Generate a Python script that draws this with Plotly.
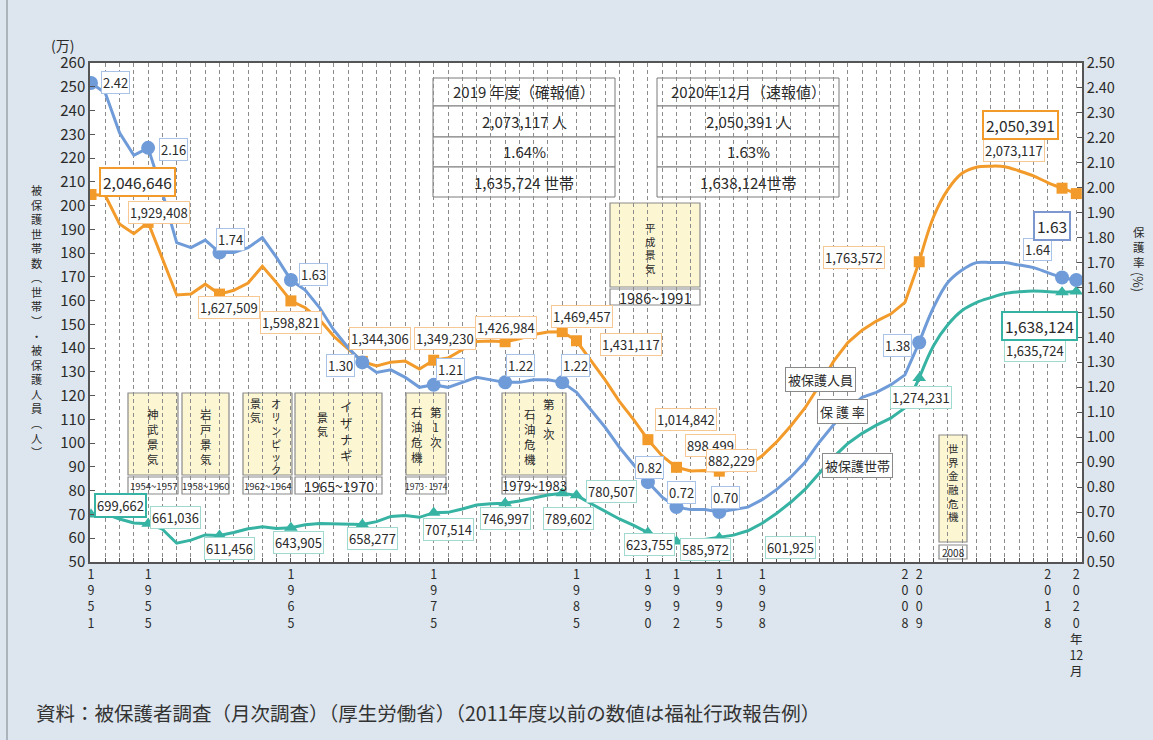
import plotly.graph_objects as go

# ---------------- data ----------------
years = list(range(1951, 2021))
persons = [2046646, 2042550, 1922060, 1881687, 1929408, 1775971, 1623744, 1627571, 1669180, 1627509,
           1643445, 1674001, 1744639, 1674661, 1598821, 1570054, 1520733, 1449970, 1398725, 1344306,
           1325218, 1341000, 1345549, 1312339, 1349230, 1358316, 1393128, 1428261, 1430488, 1426984,
           1439226, 1457383, 1468245, 1469457, 1431117, 1348163, 1266126, 1176258, 1099520, 1014842,
           946374, 898499, 883112, 884912, 882229, 887450, 905589, 946994, 1004472, 1072241,
           1148088, 1242723, 1344327, 1423388, 1475838, 1513892, 1543321, 1592620, 1763572, 1952063,
           2067244, 2135708, 2161612, 2165895, 2163685, 2145438, 2124631, 2096838, 2073117, 2050391]
rates = [2.42, 2.38, 2.22, 2.13, 2.16, 1.98, 1.78, 1.76, 1.79, 1.74,
         1.74, 1.76, 1.80, 1.72, 1.63, 1.59, 1.52, 1.43, 1.36, 1.30,
         1.26, 1.27, 1.24, 1.20, 1.21, 1.20, 1.22, 1.24, 1.23, 1.22,
         1.22, 1.23, 1.23, 1.22, 1.18, 1.11, 1.04, 0.96, 0.89, 0.82,
         0.76, 0.72, 0.71, 0.71, 0.70, 0.71, 0.72, 0.75, 0.79, 0.84,
         0.90, 0.98, 1.05, 1.11, 1.16, 1.18, 1.21, 1.25, 1.38, 1.52,
         1.62, 1.67, 1.70, 1.70, 1.70, 1.69, 1.68, 1.66, 1.64, 1.63]
households = [699662, 702450, 681000, 664000, 661036, 638000, 579000, 592000, 614000, 611456,
              624000, 640000, 648000, 641000, 643905, 657000, 662000, 660000, 660000, 658277,
              670000, 692000, 696000, 688000, 707514, 709000, 723000, 740000, 745000, 746997,
              757000, 770000, 782000, 789602, 780507, 746000, 713000, 681000, 654000, 623755,
              600697, 585972, 586106, 595407, 601925, 613106, 631488, 663060, 704055, 751303,
              805169, 870931, 941270, 998887, 1041508, 1075820, 1105275, 1148766, 1274231, 1410049,
              1498375, 1558510, 1591846, 1612340, 1629743, 1637045, 1640854, 1637422, 1635724, 1638124]

x_tick_years = [1951, 1955, 1965, 1975, 1985, 1990, 1992, 1995, 1998, 2008, 2009, 2018, 2020]
x_tick_text = ["<br>".join(str(y)) for y in x_tick_years[:-1]] + ["2<br>0<br>2<br>0<br>年<br>12<br>月"]

marker_years = [1951, 1955, 1960, 1965, 1970, 1975, 1980, 1984, 1985, 1990, 1992, 1995, 2009, 2019, 2020]
rate_marker_years = [1951, 1955, 1960, 1965, 1970, 1975, 1980, 1984, 1990, 1992, 1995, 2009, 2019, 2020]

series_names = ["被保護人員", "保 護 率", "被保護世帯"]
cycle_names = ["神武景気", "岩戸景気", "オリンピック景気", "イザナギ景気", "第1次石油危機", "第2次石油危機", "平成景気", "世界金融危機"]
cycle_periods = ["1954~1957", "1958~1960", "1962~1964", "1965~1970", "1973·1974", "1979~1983", "1986~1991", "2008"]

# ---------------- style ----------------
ORANGE = "#f29b2b"
BLUE = "#6f9bd8"
TEAL = "#36b3a3"
FONT = "Noto Sans CJK JP"
TXT = "#2a2a2a"
BG = "#dde6ee"
GRID = "#8c8c8c"

PL, PR, PT, PB = 90, 1082, 63, 562


def px(x):
    return (x - PL) / (PR - PL)


def py(y):
    return (PB - y) / (PB - PT)


p_man = [v / 10000 for v in persons]
h_man = [v / 10000 for v in households]
idx = {y: i for i, y in enumerate(years)}

fig = go.Figure()


def add_series(vals, color, yaxis, symbol, msize, myears):
    lin = [i for i, y in enumerate(years) if y <= 2009]
    spl = [i for i, y in enumerate(years) if y >= 2009]
    fig.add_trace(go.Scatter(x=[years[i] for i in lin], y=[vals[i] for i in lin], mode="lines",
                             line=dict(color=color, width=3), yaxis=yaxis, hoverinfo="skip"))
    fig.add_trace(go.Scatter(x=[years[i] for i in spl], y=[vals[i] for i in spl], mode="lines",
                             line=dict(color=color, width=3, shape="spline", smoothing=1.0),
                             yaxis=yaxis, hoverinfo="skip"))
    fig.add_trace(go.Scatter(x=myears, y=[vals[idx[y]] for y in myears], mode="markers",
                             marker=dict(color=color, size=msize, symbol=symbol), yaxis=yaxis,
                             hoverinfo="skip"))


add_series(h_man, TEAL, "y", "triangle-up", 12, marker_years)
add_series(p_man, ORANGE, "y", "square", 11, marker_years)
add_series(rates, BLUE, "y2", "circle", 14, rate_marker_years)

anns = []
shapes = []

# ---------------- value labels ----------------
persons_lab = {1951: (46, 12, True), 1955: (11, 10, False), 1960: (9, -13, False), 1965: (0, -22, False),
               1970: (18, 23, False), 1975: (11, 22, False), 1980: (1, 14, False), 1984: (20, 15, False),
               1985: (54, -4, False), 1990: (38, 20, False), 1992: (34, 22, False), 1995: (12, 11, False),
               2009: (-65, 4, False), 2019: (-48, 38, False), 2020: (-56, 69, True)}
rates_lab = {1951: (24, 0, False), 1955: (25, -2, False), 1960: (11, 13, False), 1965: (23, 6, False),
             1970: (-22, -3, False), 1975: (17, 15, False), 1980: (15, 17, False), 1984: (13, 17, False),
             1990: (2, 15, False), 1992: (5, 15, False), 1995: (6, 15, False), 2009: (-22, -3, False),
             2019: (-25, 28, False), 2020: (-24, 54, True)}
house_lab = {1951: (29, 9, "mid"), 1955: (27, 6, False), 1960: (10, -13, False), 1965: (8, -15, False),
             1970: (10, -14, False), 1975: (15, -17, False), 1980: (0, -15, False), 1984: (6, -25, False),
             1985: (35, 4, False), 1990: (2, -12, False), 1992: (29, -8, False), 1995: (71, -10, False),
             2009: (2, -19, False), 2019: (-27, -58, False), 2020: (-37, -34, True)}


def add_labels(labdict, vals, fmt, yref, light, strong):
    for y, (dx, dy, hl) in labdict.items():
        v = vals[idx[y]]
        big = hl is True
        anns.append(dict(x=y, y=(v / 10000 if yref == "y" else v), xref="x", yref=yref,
                         text=fmt(v), showarrow=False, xshift=dx, yshift=dy,
                         xanchor="center", yanchor="middle",
                         font=dict(family=FONT, size=15.5 if big else 13, color=TXT),
                         bgcolor="white", bordercolor=strong if hl else light,
                         borderwidth=2 if hl else 1, borderpad=2 if big else 1))


add_labels(persons_lab, persons, lambda v: f"{v:,}", "y", "#f7c894", ORANGE)
add_labels(rates_lab, rates, lambda v: f"{v:.2f}", "y2", "#a9c2e8", "#7d98cf")
add_labels(house_lab, households, lambda v: f"{v:,}", "y", "#9fd9d0", TEAL)

# series name labels
for name, (cx, cy) in zip(series_names, [(820, 379), (842, 412), (857, 465)]):
    anns.append(dict(xref="paper", yref="paper", x=px(cx), y=py(cy), text=name, showarrow=False,
                     xanchor="center", yanchor="middle", font=dict(family=FONT, size=13, color=TXT),
                     bgcolor="white", bordercolor="#8a8a8a", borderwidth=1, borderpad=2))

# ---------------- tables ----------------
row_edges = [78, 106, 137, 167, 197]
tables = [
    (433, 615, ["2019 年度（確報値）", f"{persons[-2]:,} 人", f"{rates[-2]:.2f}%", f"{households[-2]:,} 世帯"]),
    (657, 839, ["2020年12月（速報値）", f"{persons[-1]:,} 人", f"{rates[-1]:.2f}%", f"{households[-1]:,}世帯"]),
]
for x0, x1, rows in tables:
    for r, t in enumerate(rows):
        y0, y1 = row_edges[r], row_edges[r + 1]
        shapes.append(dict(type="rect", xref="paper", yref="paper", x0=px(x0), x1=px(x1), y0=py(y1), y1=py(y0),
                           fillcolor="white", line=dict(color="#7a7a7a", width=1), layer="between"))
        anns.append(dict(xref="paper", yref="paper", x=px((x0 + x1) / 2), y=py((y0 + y1) / 2), text=t,
                         showarrow=False, xanchor="center", yanchor="middle",
                         font=dict(family=FONT, size=15, color=TXT)))


# ---------------- vertical (stacked) text ----------------
def vcol(x, ytop, text, size, color=TXT):
    n = len(text)
    pitch = 1.3 * size
    anns.append(dict(xref="paper", yref="paper", x=px(x), y=py(ytop + (n - 1) * pitch / 2),
                     text="<br>".join(text), showarrow=False, xanchor="center", yanchor="middle",
                     align="center", font=dict(family=FONT, size=size, color=color)))


cycle_geom = [
    (128, 178, 393, 475, 477, 494, 9.5, [(153, 414, 11.5, "神武景気")]),
    (182, 229, 393, 475, 477, 494, 9.5, [(206, 414, 11.5, "岩戸景気")]),
    (243, 292, 393, 475, 477, 494, 9.5, [(276, 403, 10.2, "オリンピック"), (255, 403, 11, "景気")]),
    (295, 382, 393, 475, 477, 494, 14, [(346, 407, 12.5, "イザナギ"), (322, 417, 11, "景気")]),
    (406, 446, 393, 475, 477, 494, 8.5, [(436, 412, 11.5, "第1次"), (417, 412, 11.5, "石油危機")]),
    (502, 566, 393, 475, 477, 494, 13, [(549, 404, 11.5, "第2次"), (530, 414, 11.5, "石油危機")]),
    (610, 700, 203, 287, 289, 305, 14.5, [(650, 228, 10.5, "平成景気")]),
    (939, 967, 435, 542, 545, 559, 10, [(953, 448, 10.5, "世界金融危機")]),
]
for name, period, (x0, x1, y0, y1, q0, q1, fs, cols) in zip(cycle_names, cycle_periods, cycle_geom):
    shapes.append(dict(type="rect", xref="paper", yref="paper", x0=px(x0), x1=px(x1), y0=py(y1), y1=py(y0),
                       fillcolor="#fcf6d3", line=dict(color="#8a8a8a", width=1.2), layer="between"))
    shapes.append(dict(type="rect", xref="paper", yref="paper", x0=px(x0), x1=px(x1), y0=py(q1), y1=py(q0),
                       fillcolor="white", line=dict(color="#8a8a8a", width=1.2), layer="between"))
    anns.append(dict(xref="paper", yref="paper", x=px((x0 + x1) / 2), y=py((q0 + q1) / 2), text=period,
                     showarrow=False, xanchor="center", yanchor="middle",
                     font=dict(family=FONT, size=fs, color=TXT)))
    for cx, ct, size, txt in cols:
        vcol(cx, ct, txt, size)

# ---------------- axis titles / notes ----------------
vcol(36, 190, "被保護世帯数︵世帯︶・被保護人員︵人︶", 11.2)
vcol(1139, 232, "保護率", 11.5)
anns.append(dict(xref="paper", yref="paper", x=px(1139), y=py(282), text="(%)", textangle=90,
                 showarrow=False, xanchor="center", yanchor="middle", font=dict(family=FONT, size=12.5, color=TXT)))
anns.append(dict(xref="paper", yref="paper", x=px(62), y=py(45), text="(万)", showarrow=False,
                 xanchor="center", yanchor="middle", font=dict(family=FONT, size=14, color=TXT)))
anns.append(dict(xref="paper", yref="paper", x=px(34), y=py(712),
                 text="資料：被保護者調査（月次調査）（厚生労働省）（2011年度以前の数値は福祉行政報告例）",
                 showarrow=False, xanchor="left", yanchor="middle", font=dict(family=FONT, size=19.5, color="#333")))

shapes.append(dict(type="line", xref="paper", yref="paper", x0=px(7), x1=px(7), y0=py(740), y1=py(0),
                   line=dict(color="#9aa3aa", width=1.5), layer="above"))

fig.update_layout(
    width=1153, height=740,
    margin=dict(l=PL, r=1153 - PR, t=PT, b=740 - PB),
    paper_bgcolor=BG, plot_bgcolor="white",
    showlegend=False,
    font=dict(family=FONT, color=TXT),
    xaxis=dict(range=[1951 - 1 / 14.28, 1951 + (PR - 91) / 14.28], tickmode="array", tickvals=x_tick_years,
               ticktext=x_tick_text, tickfont=dict(family=FONT, size=12.5, color=TXT),
               showgrid=True, gridcolor=GRID, gridwidth=1, griddash="4px,3px",
               ticks="inside", ticklen=4, tickcolor="#555",
               showline=True, linecolor="#555", linewidth=1.5, mirror=True, zeroline=False,
               minor=dict(tickmode="linear", tick0=1951, dtick=1, showgrid=True, gridcolor=GRID, gridwidth=1,
                          griddash="4px,3px", ticks="inside", ticklen=4, tickcolor="#555")),
    yaxis=dict(range=[50, 260], tick0=50, dtick=10, ticks="inside", ticklen=5, tickcolor="#555",
               showline=True, linecolor="#555", linewidth=1.5, showgrid=False, zeroline=False,
               tickfont=dict(family=FONT, size=15, color=TXT)),
    yaxis2=dict(range=[0.5, 2.5], tick0=0.5, dtick=0.1, tickformat=".2f", overlaying="y", side="right",
                ticks="inside", ticklen=5, tickcolor="#555", showline=True, linecolor="#555", linewidth=1.5,
                showgrid=False, zeroline=False, tickfont=dict(family=FONT, size=14.5, color=TXT)),
    annotations=anns, shapes=shapes,
)

fig.write_html("out.html")
